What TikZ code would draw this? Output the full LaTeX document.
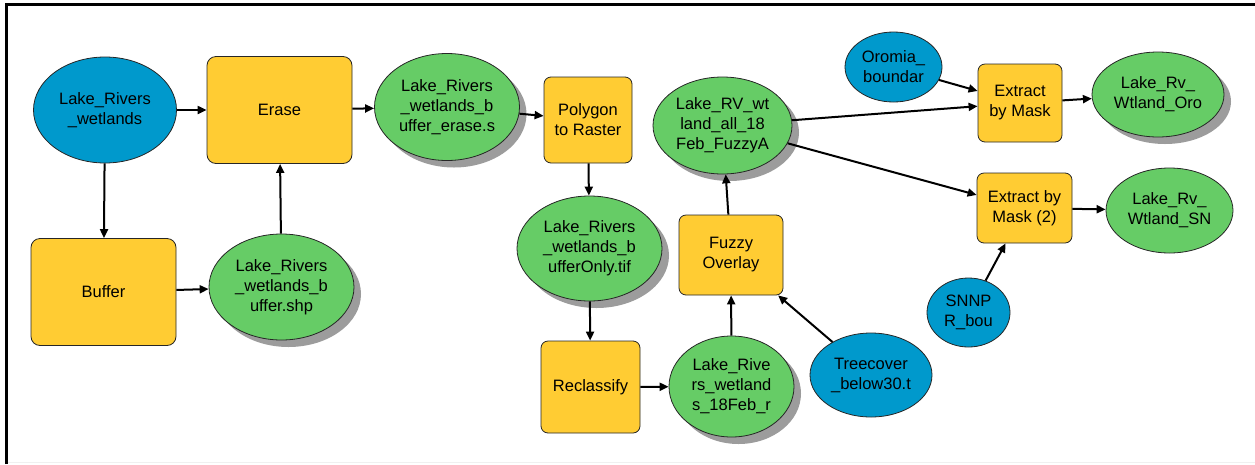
\documentclass[tikz,border=0pt]{standalone}
\usepackage{fontspec}
\setmainfont{Liberation Sans}
\usetikzlibrary{shapes.geometric,arrows.meta,shadows}
\definecolor{inblue}{HTML}{0099CC}
\definecolor{toolyel}{HTML}{FFCC33}
\definecolor{outgrn}{HTML}{66CC66}
\definecolor{shadgray}{HTML}{9C9C9C}
\tikzset{
  every node/.style={font=\fontsize{16.5}{20}\selectfont, align=center, inner sep=0pt, draw=black!85, line width=0.8pt},
  indata/.style={ellipse, fill=inblue},
  outdata/.style={ellipse, fill=outgrn},
  shad/.style={general shadow={fill=shadgray, shadow xshift=7pt, shadow yshift=-7pt}},
  tool/.style={rectangle, rounded corners=9pt, fill=toolyel},
  flow/.style={line width=2pt, -{Triangle[length=9pt,width=8pt]}}
}
\begin{document}
\begin{tikzpicture}[x=1pt,y=-1pt]
\useasboundingbox (0,0) rectangle (1255,464);
\draw[gray!12, line width=1.5pt] (7,462.5) -- (1255,462.5);
\draw[line width=2.2pt] (6.5,464) -- (6.5,4.5) -- (1255,4.5);

\node[indata, minimum width=143pt, minimum height=106pt] (lakeRiv) at (105,110){Lake\_Rivers\\\_wetlands};
\node[tool, minimum width=145pt, minimum height=107pt] (erase) at (279.5,110){Erase};
\node[tool, minimum width=145pt, minimum height=107pt] (buffer) at (103.5,292){Buffer};
\node[outdata, shad, minimum width=145pt, minimum height=106pt] (bufShp) at (281.5,287){Lake\_Rivers\\\_wetlands\_b\\uffer.shp};
\node[outdata, shad, minimum width=145pt, minimum height=107pt] (eraseS) at (447,107){Lake\_Rivers\\\_wetlands\_b\\uffer\_erase.s};
\node[tool, rounded corners=7pt, minimum width=88pt, minimum height=86pt] (polyRas) at (588,120){Polygon\\to Raster};
\node[outdata, shad, minimum width=145pt, minimum height=105pt] (bufOnly) at (589.5,248.5){Lake\_Rivers\\\_wetlands\_b\\ufferOnly.tif};
\node[tool, rounded corners=7pt, minimum width=99pt, minimum height=92pt] (reclass) at (590.5,387){Reclassify};
\node[outdata, shad, minimum width=125pt, minimum height=101pt] (febR) at (731.5,386.5){Lake\_Rive\\rs\_wetland\\s\_18Feb\_r};
\node[tool, rounded corners=7pt, minimum width=104pt, minimum height=80pt] (fuzzy) at (731,255){Fuzzy\\Overlay};
\node[outdata, shad, minimum width=139pt, minimum height=97pt] (fuzzyA) at (722.5,125.5){Lake\_RV\_wt\\land\_all\_18\\Feb\_FuzzyA};
\node[indata, minimum width=122pt, minimum height=84pt] (treeCov) at (871,375){Treecover\\\_below30.t};
\node[indata, minimum width=97pt, minimum height=70pt] (oromia) at (893.5,67){Oromia\_\\boundar};
\node[tool, rounded corners=7pt, minimum width=84pt, minimum height=78pt] (extract) at (1020,103){Extract\\by Mask};
\node[outdata, shad, minimum width=132pt, minimum height=85pt] (oro) at (1158,94.5){Lake\_Rv\_\\Wtland\_Oro};
\node[tool, rounded corners=7pt, minimum width=95pt, minimum height=70pt] (extractB) at (1024.5,208){Extract by\\Mask (2)};
\node[outdata, minimum width=127pt, minimum height=85pt] (sn) at (1169.5,210.5){Lake\_Rv\_\\Wtland\_SN};
\node[indata, minimum width=83pt, minimum height=69pt] (snnpr) at (968.5,312.5){SNNP\\R\_bou};

\draw[flow] (lakeRiv) -- (erase);
\draw[flow] (lakeRiv) -- (buffer);
\draw[flow] (buffer) -- (bufShp);
\draw[flow] (bufShp) -- (erase);
\draw[flow] (erase) -- (eraseS);
\draw[flow] (eraseS) -- (polyRas);
\draw[flow] (polyRas) -- (bufOnly);
\draw[flow] (bufOnly) -- (reclass);
\draw[flow] (reclass) -- (febR);
\draw[flow] (febR) -- (fuzzy);
\draw[flow] (treeCov) -- (fuzzy);
\draw[flow] (fuzzy) -- (fuzzyA);
\draw[flow] (fuzzyA) -- (extract);
\draw[flow] (fuzzyA) -- (extractB);
\draw[flow] (oromia) -- (extract);
\draw[flow] (extract) -- (oro);
\draw[flow] (snnpr) -- (extractB);
\draw[flow] (extractB) -- (sn);

\end{tikzpicture}
\end{document}
